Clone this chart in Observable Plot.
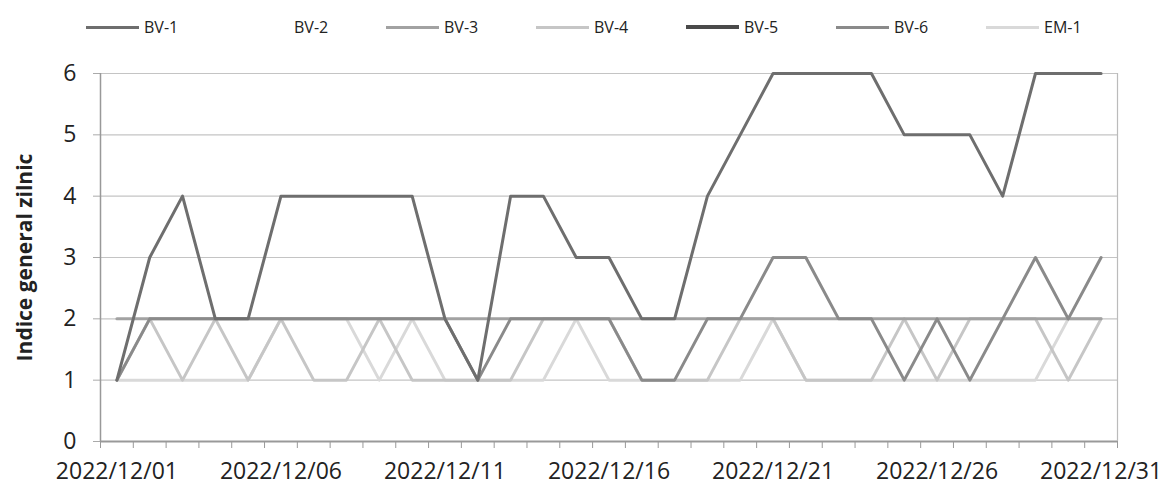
<!DOCTYPE html>
<html><head><meta charset="utf-8">
<script src="https://cdn.jsdelivr.net/npm/d3@7"></script>
<script src="https://cdn.jsdelivr.net/npm/@observablehq/plot@0.6"></script>
<style>
body{margin:0;background:#fff;font-family:"Open Sans",sans-serif;}
#wrap{position:relative;width:1167px;height:488px;overflow:hidden;}
#legend{position:absolute;left:0;top:16px;display:flex;padding-left:86px;z-index:2;}
.item{width:150px;display:flex;align-items:center;font-size:16px;color:#222;}
.sw{width:53px;height:0;border-top:3px solid;margin-right:5px;}
</style></head><body>
<div id="wrap"><div id="legend"></div><div id="chart"></div></div>
<script>
// ---- data ----
const dates = ["2022/12/01","2022/12/02","2022/12/03","2022/12/04","2022/12/05","2022/12/06","2022/12/07","2022/12/08","2022/12/09","2022/12/10","2022/12/11","2022/12/12","2022/12/13","2022/12/14","2022/12/15","2022/12/16","2022/12/17","2022/12/18","2022/12/19","2022/12/20","2022/12/21","2022/12/22","2022/12/23","2022/12/24","2022/12/25","2022/12/26","2022/12/27","2022/12/28","2022/12/29","2022/12/30","2022/12/31"];
const labelDates = ["2022/12/01","2022/12/06","2022/12/11","2022/12/16","2022/12/21","2022/12/26","2022/12/31"];
const yTicks = [0,1,2,3,4,5,6];
const yTitle = "Indice general zilnic";
const seriesNames = ["BV-1","BV-2","BV-3","BV-4","BV-5","BV-6","EM-1"];
const seriesColors = ["#6e6e6e","transparent","#a2a2a2","#c6c6c6","#4a4a4a","#8a8a8a","#d9d9d9"];
const bv1 = [1,3,4,2,2,4,4,4,4,4,2,1,4,4,3,3,2,2,4,5,6,6,6,6,5,5,5,4,6,6,6];
const bv2 = Array(31).fill(null); // not visible in the picture
const bv3 = [2,2,2,2,2,2,2,2,2,2,2,2,2,2,2,2,2,2,2,2,2,2,2,2,2,2,2,2,2,2,2];
const bv4 = [1,2,1,2,1,2,1,1,2,1,1,1,1,2,2,2,1,1,1,2,2,1,1,1,2,1,2,2,2,1,2];
const bv5 = Array(31).fill(null); // not visible in the picture
const bv6 = [1,2,2,2,2,2,2,2,2,2,2,1,2,2,2,2,1,1,2,2,3,3,2,2,1,2,1,2,3,2,3];
const em1 = [1,1,1,1,1,2,2,2,1,2,1,1,1,1,2,1,1,1,1,1,2,1,1,1,1,1,1,1,1,2,2];
const seriesValues = [bv1,bv2,bv3,bv4,bv5,bv6,em1];
const drawOrder = ["BV-2","EM-1","BV-4","BV-3","BV-6","BV-5","BV-1"];

// ---- legend ----
const leg = document.getElementById("legend");
seriesNames.forEach((n,i)=>{
  const it = document.createElement("div"); it.className="item";
  const sw = document.createElement("span"); sw.className="sw";
  sw.style.borderTopColor = seriesColors[i];
  if (n==="BV-5") sw.style.borderTopWidth="4px";
  const tx = document.createElement("span"); tx.textContent = n;
  it.append(sw, tx); leg.append(it);
});

// ---- table ----
const rows = [];
seriesNames.forEach((n,i)=>seriesValues[i].forEach((v,j)=>rows.push({series:n, day:j+1, value:v})));
const dayIndex = d => dates.indexOf(d) + 1;
const boundaries = dates.map((d,i)=>i+0.5).concat([dates.length+0.5]);
const labelDays = labelDates.map(dayIndex);

const lineMarks = drawOrder.map(n => Plot.line(rows.filter(r=>r.series===n), {
  x:"day", y:"value", stroke: seriesColors[seriesNames.indexOf(n)], strokeWidth: 3, curve:"linear"
}));

const chart = Plot.plot({
  width:1167, height:488,
  marginLeft:100, marginRight:50, marginTop:73, marginBottom:47,
  style:{fontFamily:"Open Sans", fontSize:"24px", color:"#222", background:"white"},
  x:{type:"linear", domain:[0.5, dates.length+0.5]},
  y:{domain:[0,6]},
  marks:[
    Plot.gridY(yTicks, {stroke:"#c4c4c4", strokeOpacity:1, strokeWidth:1.2}),
    Plot.axisY(yTicks, {tickSize:7, tickPadding:17, stroke:"#aaa", label:null, fontSize:23, tickFormat:d=>String(d)}),
    Plot.axisX(boundaries, {tickSize:7, tickFormat:()=>"", stroke:"#999", label:null}),
    Plot.axisX(labelDays, {tickSize:0, tickPadding:21, tickFormat:d=>dates[d-1], label:null, fontSize:23}),
    Plot.ruleX([boundaries[0]], {stroke:"#999", strokeWidth:1.5}),
    Plot.ruleX([boundaries[boundaries.length-1]], {stroke:"#bbb", strokeWidth:1.2}),
    Plot.ruleY([0], {stroke:"#999", strokeWidth:2.2}),
    ...lineMarks,
    Plot.text([yTitle], {frameAnchor:"left", textAnchor:"middle", dx:-75, rotate:-90, fontWeight:"bold", fontSize:21, fill:"#222"})
  ]
});
document.getElementById("chart").append(chart);
</script>
</body></html>
